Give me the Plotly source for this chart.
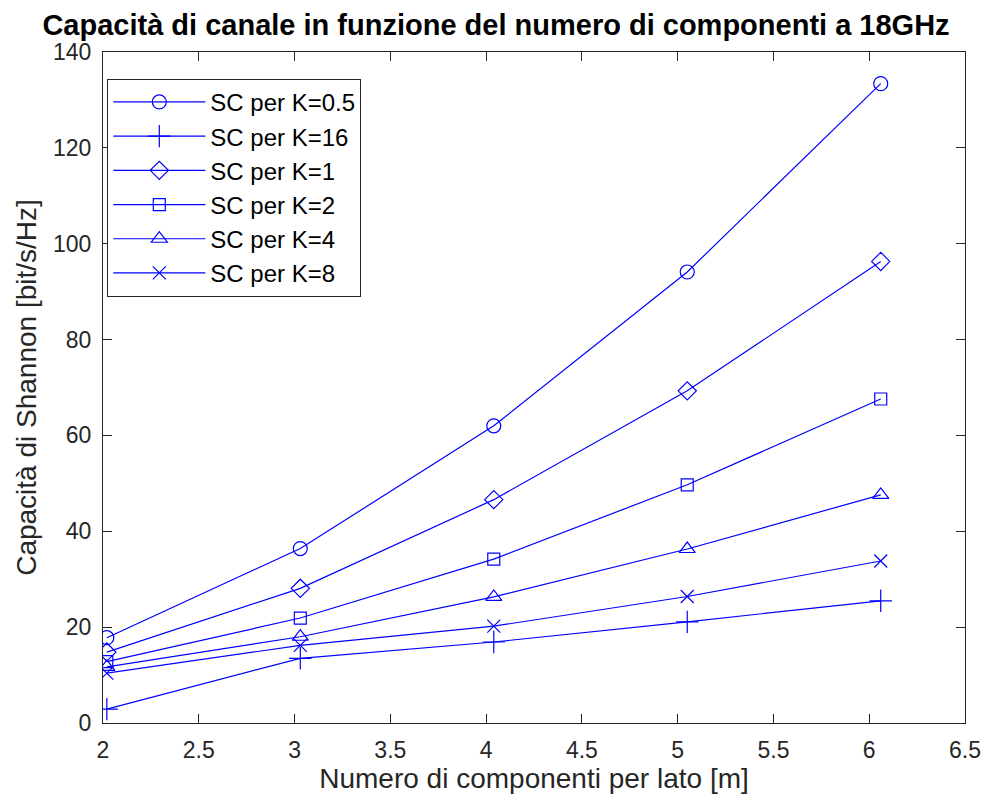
import plotly.graph_objects as go

x_vals = [2.02, 3.03, 4.04, 5.05, 6.06]

names = ["SC per K=0.5", "SC per K=16", "SC per K=1", "SC per K=2", "SC per K=4", "SC per K=8"]
k05 = [17.8, 36.4, 62.0, 94.1, 133.4]
k16 = [2.9, 13.5, 16.9, 21.1, 25.5]
k1 = [14.8, 28.1, 46.6, 69.3, 96.3]
k2 = [12.8, 21.9, 34.2, 49.7, 67.6]
k4 = [11.7, 18.0, 26.3, 36.3, 47.6]
k8 = [10.4, 16.2, 20.2, 26.4, 33.8]
series = [k05, k16, k1, k2, k4, k8]
symbols = ["circle-open", "cross-thin-open", "diamond-open", "square-open", "triangle-up-open", "x-thin-open"]
sizes = [14, 16, 14, 12, 14, 13]

x_ticks = [2, 2.5, 3, 3.5, 4, 4.5, 5, 5.5, 6, 6.5]
y_ticks = [0, 20, 40, 60, 80, 100, 120, 140]

FONT = "Liberation Sans, Arial, sans-serif"

fig = go.Figure()
for i, (nm, ys) in enumerate(zip(names, series)):
    fig.add_trace(go.Scatter(
        x=x_vals, y=ys, name=nm, mode="lines+markers",
        line=dict(color="#0000FF", width=1.2),
        marker=dict(symbol=symbols[i], size=sizes[i], color="#0000FF",
                    line=dict(color="#0000FF", width=1.2)),
    ))

axis_common = dict(
    showline=True, linecolor="#262626", linewidth=1, mirror="ticks",
    ticks="inside", ticklen=9, tickcolor="#262626", tickwidth=1,
    showgrid=False, zeroline=False,
    tickfont=dict(family=FONT, size=23, color="#262626"),
)

fig.update_layout(
    width=992, height=808,
    margin=dict(l=103, r=27, t=52, b=85),
    paper_bgcolor="white", plot_bgcolor="white",
    title=dict(
        text="<b>Capacità di canale in funzione del numero di componenti a 18GHz</b>",
        x=0.5, xanchor="center", y=0.969, yanchor="middle",
        font=dict(family=FONT, size=29, color="#000000"),
    ),
    xaxis=dict(
        range=[2, 6.5], tickvals=x_ticks, ticktext=[str(v) for v in x_ticks],
        ticklabelstandoff=6,
        title=dict(text="Numero di componenti per lato [m]", standoff=1,
                   font=dict(family=FONT, size=28, color="#262626")),
        **axis_common,
    ),
    yaxis=dict(
        range=[0, 140], tickvals=y_ticks,
        ticklabelstandoff=6,
        title=dict(text="Capacità di Shannon [bit/s/Hz]", standoff=8,
                   font=dict(family=FONT, size=28, color="#262626")),
        **axis_common,
    ),
    legend=dict(
        x=0.005, y=0.96, xanchor="left", yanchor="top",
        bgcolor="white", bordercolor="#262626", borderwidth=1,
        font=dict(family=FONT, size=24, color="#000000"),
        tracegroupgap=0, itemwidth=92,
    ),
    showlegend=True,
)

fig.write_html("out.html")
